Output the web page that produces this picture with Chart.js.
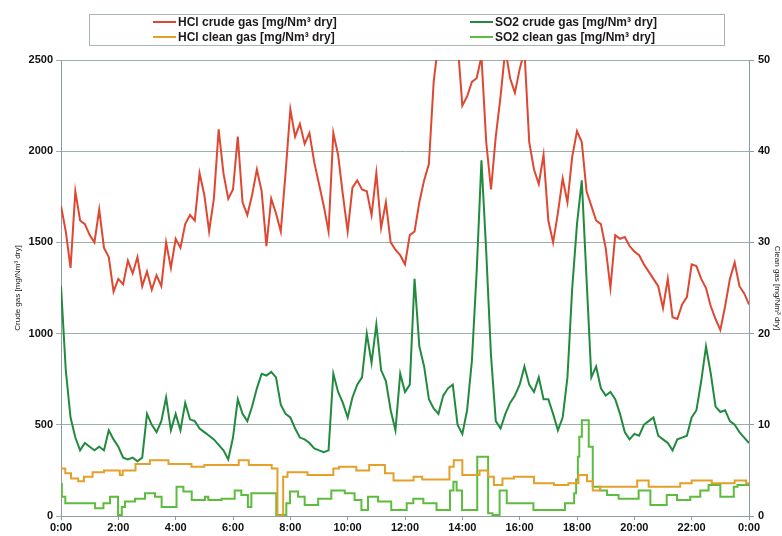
<!DOCTYPE html>
<html>
<head>
<meta charset="utf-8">
<script src="https://cdn.jsdelivr.net/npm/chart.js@4.4.0/dist/chart.umd.min.js"></script>
<style>
  html, body { margin: 0; padding: 0; background: #fff; }
</style>
</head>
<body>
<canvas id="chart" width="782" height="536"></canvas>
<script>
// crude gas readings, one value every 10 minutes from 0:00 to 24:00
const STEP_HOURS = 1 / 6;

const hclCrude = [
    1700, 1560, 1360, 1780, 1620, 1600, 1540, 1500, 1680, 1470, 1420, 1230,
    1300, 1270, 1400, 1330, 1420, 1260, 1340, 1240, 1320, 1260, 1500, 1360,
    1520, 1470, 1600, 1650, 1620, 1880, 1760, 1560, 1740, 2120, 1880, 1740,
    1790, 2080, 1720, 1650, 1760, 1900, 1780, 1480, 1740, 1660, 1560, 1880,
    2230, 2080, 2150, 2040, 2100, 1940, 1820, 1700, 1560, 2100, 1980, 1760,
    1560, 1800, 1840, 1790, 1780, 1650, 1880, 1580, 1720, 1500, 1460, 1430,
    1380, 1540, 1560, 1720, 1840, 1930, 2380, 2600, 2750, 2800, 2700, 2600,
    2250, 2300, 2380, 2400, 2520, 2050, 1790, 2080, 2300, 2560, 2400, 2320,
    2450, 2550, 2050, 1900, 1820, 1980, 1620, 1500, 1660, 1850, 1720, 1970,
    2110, 2050, 1780, 1700, 1620, 1600, 1470, 1250, 1540, 1520, 1530, 1480,
    1450, 1430, 1380, 1340, 1300, 1260, 1140, 1300, 1090, 1080, 1160, 1200,
    1380, 1370, 1300, 1250, 1150, 1080, 1020, 1150, 1300, 1390, 1260, 1220,
    1160
];

const so2Crude = [
    1260, 800, 540, 430, 360, 400, 380, 360, 380, 360, 470, 420,
    380, 320, 310, 320, 300, 320, 560, 500, 460, 520, 650, 470,
    560, 470, 620, 530, 520, 480, 460, 440, 420, 390, 360, 310,
    430, 640, 560, 520, 600, 700, 780, 770, 790, 760, 610, 560,
    540, 480, 430, 420, 400, 370, 360, 350, 360, 780, 680, 620,
    540, 650, 720, 760, 1000, 840, 1050, 800, 740, 580, 470, 780,
    680, 720, 1300, 930, 820, 640, 590, 560, 660, 700, 720, 500,
    450, 580, 850, 1340, 1950, 1450, 880, 520, 480, 560, 620, 660,
    720, 820, 720, 680, 760, 640, 640, 560, 470, 540, 760, 1250,
    1600, 1840, 1300, 760, 820, 700, 660, 680, 640, 560, 460, 420,
    450, 440, 500, 520, 540, 440, 420, 400, 360, 420, 430, 440,
    540, 580, 740, 930, 780, 600, 570, 580, 520, 500, 460, 430,
    400
];

// clean gas is logged in steps: hour of change and new value
const hclCleanTimes = [
    0, 0.15, 0.35, 0.6, 0.8, 1.1, 1.5, 2.05, 2.15, 2.6, 3.1, 3.75,
    4.55, 5.0, 6.2, 6.55, 7.35, 7.55, 7.75, 7.9, 8.6, 9.5, 9.7, 10.3,
    10.75, 11.3, 11.6, 12.3, 12.6, 13.55, 13.7, 14.0, 14.6, 14.9, 15.1, 15.4,
    15.8, 16.5, 17.2, 17.7, 18.05, 18.35, 18.55, 18.8, 20.1, 20.5, 21.6, 22.0,
    22.7, 23.5, 23.9, 24
];
const hclCleanValues = [
    5.2, 4.7, 4.1, 3.8, 4.3, 4.8, 5.0, 4.5, 5.0, 5.7, 6.1, 5.7,
    5.4, 5.6, 6.1, 5.6, 5.2, 0, 4.3, 4.8, 4.5, 5.2, 5.4, 5.0,
    5.6, 4.7, 3.9, 4.3, 4.0, 5.4, 6.1, 4.5, 5.0, 4.3, 3.4, 4.1,
    4.3, 3.6, 3.4, 3.6, 4.5, 3.8, 2.8, 3.2, 3.9, 3.2, 3.6, 3.9,
    3.6, 3.9, 3.6, 3.6
];

const so2CleanTimes = [
    0, 0.03, 0.15, 1.19, 1.48, 1.71, 1.99, 2.12, 2.23, 2.58, 2.93, 3.28,
    3.51, 4.03, 4.27, 4.56, 5.02, 5.14, 5.6, 6.06, 6.29, 6.52, 6.64, 7.51,
    7.86, 7.99, 8.27, 8.5, 8.97, 9.43, 9.9, 10.24, 10.48, 10.71, 11.06, 11.52,
    12.06, 12.29, 12.64, 13.1, 13.57, 13.69, 13.8, 13.99, 14.52, 14.9, 15.05, 15.3,
    15.55, 16.48, 17.58, 17.9, 17.97, 18.03, 18.08, 18.17, 18.41, 18.55, 18.81, 19.05,
    19.45, 20.15, 20.56, 21.13, 21.49, 21.95, 22.3, 22.59, 23.0, 23.47, 23.6, 24
];
const so2CleanValues = [
    3.5, 2.1, 1.4, 0.85, 1.4, 2.1, 0.1, 1.0, 1.6, 1.9, 2.5, 2.1,
    1.0, 3.2, 2.7, 1.75, 2.1, 1.75, 1.9, 2.8, 2.3, 1.0, 2.5, 0.1,
    1.4, 2.7, 2.1, 1.2, 1.9, 2.8, 2.5, 1.75, 0.65, 2.1, 1.6, 0.65,
    1.4, 1.9, 1.4, 0.65, 2.8, 3.75, 2.8, 0.65, 6.5, 0.3, 0.1, 2.8,
    1.4, 0.65, 1.4, 2.5, 4.0, 6.5, 8.7, 10.5, 7.6, 3.2, 2.8, 2.3,
    1.9, 2.8, 1.2, 2.3, 1.75, 2.1, 2.8, 3.4, 2.1, 3.2, 3.4, 3.4
];

const xTicks = [0, 2, 4, 6, 8, 10, 12, 14, 16, 18, 20, 22, 24];

const FONT = '"Liberation Sans", Arial, sans-serif';

function everyTenMinutes(values) {
    return values.map((v, i) => ({ x: i * STEP_HOURS, y: v }));
}

function pairUp(times, values) {
    return times.map((t, i) => ({ x: t, y: values[i] }));
}

// legend drawn as a framed 2x2 box like the original report
const legendBox = {
    id: 'legendBox',
    afterDraw(chart) {
        const ctx = chart.ctx;
        const slots = [[153, 22], [470, 22], [153, 37], [470, 37]];
        ctx.save();
        ctx.strokeStyle = '#a9b4b4';
        ctx.lineWidth = 1;
        ctx.strokeRect(89.5, 14.5, 635, 31);
        ctx.font = 'bold 12px ' + FONT;
        ctx.textBaseline = 'middle';
        ctx.fillStyle = '#1a1a1a';
        chart.data.datasets.forEach((ds, i) => {
            const [x, y] = slots[i];
            ctx.strokeStyle = ds.borderColor;
            ctx.lineWidth = 2;
            ctx.beginPath();
            ctx.moveTo(x, y);
            ctx.lineTo(x + 23, y);
            ctx.stroke();
            ctx.fillText(ds.label, x + 25, y + 1);
        });
        ctx.restore();
    }
};

new Chart(document.getElementById('chart'), {
    type: 'line',
    data: {
        datasets: [
            {
                label: 'HCl crude gas [mg/Nm³ dry]',
                data: everyTenMinutes(hclCrude),
                borderColor: 'rgb(222, 72, 50)',
                borderWidth: 2,
                yAxisID: 'y'
            },
            {
                label: 'SO2 crude gas [mg/Nm³ dry]',
                data: everyTenMinutes(so2Crude),
                borderColor: 'rgb(34, 138, 62)',
                borderWidth: 2,
                yAxisID: 'y'
            },
            {
                label: 'HCl clean gas [mg/Nm³ dry]',
                data: pairUp(hclCleanTimes, hclCleanValues),
                borderColor: 'rgb(228, 160, 40)',
                borderWidth: 2,
                stepped: true,
                yAxisID: 'y2'
            },
            {
                label: 'SO2 clean gas [mg/Nm³ dry]',
                data: pairUp(so2CleanTimes, so2CleanValues),
                borderColor: 'rgb(92, 188, 62)',
                borderWidth: 2,
                stepped: true,
                yAxisID: 'y2'
            }
        ]
    },
    options: {
        responsive: false,
        animation: false,
        layout: { padding: { top: 60, left: 0, right: 0, bottom: 0 } },
        elements: { point: { radius: 0 }, line: { tension: 0 } },
        plugins: {
            legend: { display: false },
            tooltip: { enabled: false }
        },
        scales: {
            x: {
                type: 'linear',
                min: 0,
                max: 24,
                afterBuildTicks: (scale) => { scale.ticks = xTicks.map(v => ({ value: v })); },
                afterFit: (scale) => { scale.height = 20; },
                border: { color: '#8e9aa6' },
                grid: { drawOnChartArea: false, drawTicks: true, tickLength: 4, color: '#8e9aa6' },
                ticks: {
                    padding: 1,
                    color: '#111',
                    font: { family: FONT, size: 11, weight: 'bold' },
                    callback: (v) => (v % 24) + ':00'
                }
            },
            y: {
                position: 'left',
                min: 0,
                max: 2500,
                afterFit: (scale) => { scale.width = 61; },
                border: { color: '#8e9aa6' },
                grid: { color: '#9cb0a8', tickLength: 5 },
                ticks: {
                    stepSize: 500,
                    padding: 3,
                    color: '#111',
                    font: { family: FONT, size: 11, weight: 'bold' },
                    callback: (v) => String(v)
                },
                title: {
                    display: true,
                    text: 'Crude gas [mg/Nm³ dry]',
                    color: '#222',
                    padding: { top: 13, bottom: 0 },
                    font: { family: FONT, size: 8 }
                }
            },
            y2: {
                position: 'right',
                min: 0,
                max: 50,
                afterFit: (scale) => { scale.width = 33; },
                border: { color: '#8e9aa6' },
                grid: { drawOnChartArea: false, tickLength: 5, color: '#8e9aa6' },
                ticks: {
                    stepSize: 10,
                    padding: 4,
                    color: '#111',
                    font: { family: FONT, size: 11, weight: 'bold' },
                    callback: (v) => String(v)
                },
                title: {
                    display: true,
                    text: 'Clean gas [mg/Nm³ dry]',
                    color: '#222',
                    padding: 0,
                    font: { family: FONT, size: 8 }
                }
            }
        }
    },
    plugins: [legendBox]
});
</script>
</body>
</html>
